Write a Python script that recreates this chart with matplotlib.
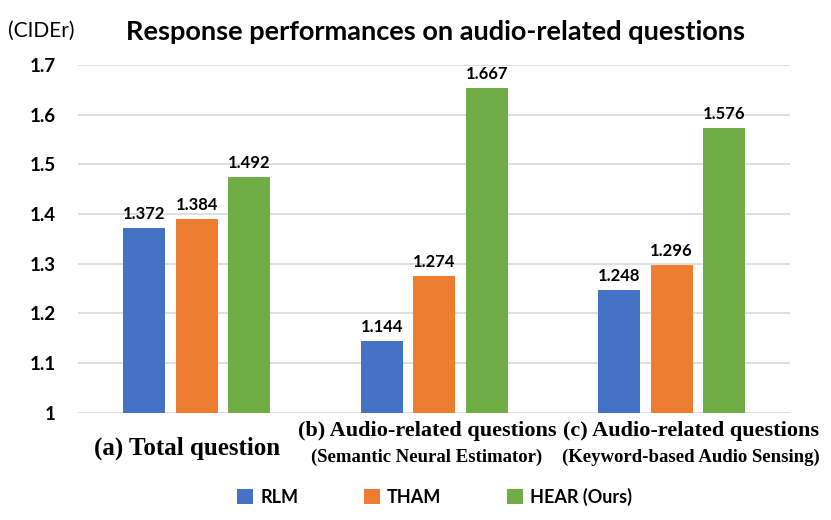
import numpy as np
import matplotlib.pyplot as plt
import matplotlib.transforms as mtransforms

plt.rcParams['font.family'] = ['Lato', 'DejaVu Sans']

# data
categories = ['(a) Total question', '(b) Audio-related questions', '(c) Audio-related questions']
subtitles = ['', '(Semantic Neural Estimator)', '(Keyword-based Audio Sensing)']
series = ['RLM', 'THAM', 'HEAR (Ours)']
# bar heights as drawn, and the value labels printed above them
rlm = [1.372, 1.145, 1.247]
tham = [1.390, 1.276, 1.298]
hear = [1.475, 1.654, 1.573]
rlm_labels = ['1.372', '1.144', '1.248']
tham_labels = ['1.384', '1.274', '1.296']
hear_labels = ['1.492', '1.667', '1.576']
yticks = [1, 1.1, 1.2, 1.3, 1.4, 1.5, 1.6, 1.7]
ytick_labels = ['1', '1.1', '1.2', '1.3', '1.4', '1.5', '1.6', '1.7']

colors = ['#4472C4', '#ED7D31', '#70AD47']

fig = plt.figure(figsize=(8.31, 5.2), dpi=100)
ax = fig.add_axes([0.094, 0.206, 0.857, 0.669])

x = np.arange(len(categories))
width = 0.177
pitch = 0.221
for i, (vals, labs) in enumerate(zip([rlm, tham, hear], [rlm_labels, tham_labels, hear_labels])):
    pos = x + (i - 1) * pitch
    ax.bar(pos, np.array(vals) - 1, width, bottom=1, color=colors[i], label=series[i], zorder=3)
    for px, v, s in zip(pos, vals, labs):
        ax.text(px, v + 0.012, s, ha='center', va='bottom', fontsize=12, fontweight='bold')

ax.set_xlim(-0.5, 2.5)
ax.set_ylim(1, 1.7)
ax.set_yticks(yticks)
ax.set_yticklabels(ytick_labels, fontsize=13.5, fontweight='bold')
ax.yaxis.grid(True, color='#d9d9d9', linewidth=1.2, zorder=0)
ax.tick_params(axis='y', length=0, pad=16)
ax.set_xticks([])
for sp in ax.spines.values():
    sp.set_visible(False)

# category labels sit a little off the bar group centres in the original
label_shift = [-0.042, -0.03, 0.08]
trans = mtransforms.blended_transform_factory(ax.transData, fig.transFigure)
for i, (cat, sub) in enumerate(zip(categories, subtitles)):
    xc = i + label_shift[i]
    if sub:
        ax.text(xc, 1 - 431 / 520, cat, transform=trans, ha='center', va='center',
                family='Liberation Serif', fontweight='bold', fontsize=16)
        ax.text(xc, 1 - 457 / 520, sub, transform=trans, ha='center', va='center',
                family='Liberation Serif', fontweight='bold', fontsize=13.5)
    else:
        ax.text(xc, 1 - 448 / 520, cat, transform=trans, ha='center', va='center',
                family='Liberation Serif', fontweight='bold', fontsize=18)

fig.text(0.524, 1 - 32 / 520, 'Response performances on audio-related questions',
         ha='center', va='center', fontsize=19.5, fontweight='bold')
fig.text(0.01, 1 - 31 / 520, '(CIDEr)', ha='left', va='center', fontsize=15)

fig.legend(loc='center', bbox_to_anchor=(0.523, 1 - 497 / 520), ncol=3, frameon=False,
           prop={'size': 13, 'weight': 'bold'}, handlelength=0.9, handleheight=0.9,
           columnspacing=3.6, handletextpad=0.4)

fig.savefig('out.png', dpi=100)
